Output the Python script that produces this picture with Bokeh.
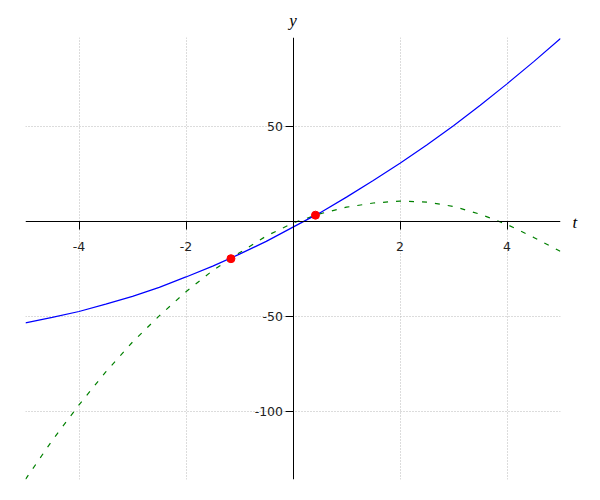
from bokeh.plotting import figure
from bokeh.models import Range1d, FixedTicker, LinearAxis, PrintfTickFormatter, CustomJSTickFormatter
from bokeh.embed import file_html
from bokeh.resources import INLINE

# sample positions along t
t_vals = [-5.0, -4.5, -4.0, -3.5, -3.0, -2.5, -2.0, -1.5, -1.0, -0.5, 0.0,
          0.5, 1.0, 1.5, 2.0, 2.5, 3.0, 3.5, 4.0, 4.5, 5.0]
# solid blue curve
blue_y = [-53.2, -50.3, -47.2, -43.3, -39.2, -34.5, -29.0, -23.3, -17.0, -10.3, -2.8,
          4.7, 13.0, 21.7, 30.8, 40.4, 50.6, 61.3, 72.6, 84.3, 96.5]
# dashed green curve
green_y = [-135.5, -115.0, -96.3, -79.0, -63.3, -49.5, -36.8, -25.6, -16.3, -7.5, -0.6,
           4.2, 7.7, 9.9, 10.9, 10.4, 8.1, 4.0, -1.4, -8.2, -15.6]
# red intersection points
cross_t = [-1.16, 0.42]
cross_y = [-19.4, 3.5]
# tick labels
x_ticks = [-4, -2, 2, 4]
y_ticks = [-100, -50, 50]
x_name = "t"
y_name = "y"

p = figure(width=592, height=492, output_backend="svg", toolbar_location=None,
           x_range=Range1d(-5, 5), y_range=Range1d(-135.6, 97.0),
           min_border_left=25, min_border_right=32, min_border_top=37, min_border_bottom=13,
           title=None)
p.outline_line_color = None
p.background_fill_color = "white"
p.border_fill_color = "white"

for ax, ticks in ((p.xaxis, x_ticks), (p.yaxis, y_ticks)):
    ax.fixed_location = 0
    ax.ticker = FixedTicker(ticks=ticks)
    ax.formatter = PrintfTickFormatter(format="%d")
    ax.minor_tick_line_color = None
    ax.major_tick_in = 0
    ax.major_tick_out = 8
    ax.axis_line_color = "black"
    ax.major_tick_line_color = "black"
    ax.major_label_text_font = "DejaVu Sans"
    ax.major_label_text_font_size = "12.5px"
    ax.major_label_text_color = "#222222"
p.xaxis.major_label_standoff = 12
p.yaxis.major_label_standoff = 2

for g in (p.xgrid, p.ygrid):
    g.grid_line_color = "#b8b8b8"
    g.grid_line_dash = "1 2"
    g.grid_line_width = 1

# axis names, drawn as single tick labels of helper axes
t_axis = LinearAxis(ticker=FixedTicker(ticks=[-0.6]),
                    formatter=CustomJSTickFormatter(code="return '%s';" % x_name),
                    axis_line_color=None, major_tick_line_color=None, minor_tick_line_color=None,
                    major_label_standoff=6, major_label_text_font="Liberation Serif",
                    major_label_text_font_style="italic", major_label_text_font_size="17px",
                    major_label_text_color="black")
p.add_layout(t_axis, "right")
y_axis_name = LinearAxis(ticker=FixedTicker(ticks=[0]),
                         formatter=CustomJSTickFormatter(code="return '%s';" % y_name),
                         axis_line_color=None, major_tick_line_color=None, minor_tick_line_color=None,
                         major_label_standoff=2, major_label_text_font="Liberation Serif",
                         major_label_text_font_style="italic", major_label_text_font_size="17px",
                         major_label_text_color="black")
p.add_layout(y_axis_name, "above")

p.line(t_vals, green_y, line_color="#008000", line_width=1.2, line_dash="5 8")
p.line(t_vals, blue_y, line_color="#0000ff", line_width=1.2)
p.scatter(cross_t, cross_y, size=8, fill_color="#ff0000", line_color="#ff0000")

open("out.html", "w").write(file_html(p, INLINE))
